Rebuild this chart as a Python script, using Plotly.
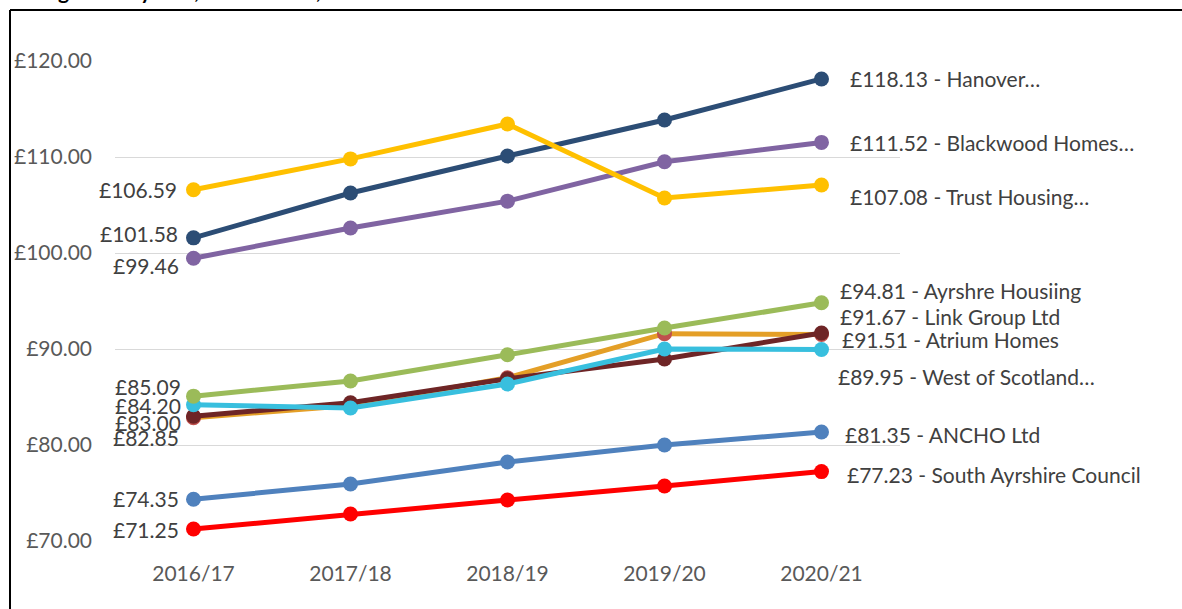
import plotly.graph_objects as go

years = ["2016/17", "2017/18", "2018/19", "2019/20", "2020/21"]

south_ayrshire = [71.25, 72.81, 74.27, 75.73, 77.23]
ancho = [74.35, 75.94, 78.23, 80.00, 81.35]
atrium = [82.85, 84.10, 87.00, 91.60, 91.51]
link_group = [83.00, 84.40, 86.90, 88.96, 91.67]
west_scotland = [84.20, 83.85, 86.35, 90.00, 89.95]
ayrshire_housing = [85.09, 86.67, 89.40, 92.19, 94.81]
blackwood = [99.46, 102.60, 105.40, 109.50, 111.52]
hanover = [101.58, 106.25, 110.10, 113.85, 118.13]
trust = [106.59, 109.80, 113.44, 105.73, 107.08]

names = ["South Ayrshire Council", "ANCHO Ltd", "Atrium Homes", "Link Group Ltd",
         "West of Scotland…", "Ayrshre Housiing", "Blackwood Homes…", "Hanover…",
         "Trust Housing…"]
series = [south_ayrshire, ancho, atrium, link_group, west_scotland,
          ayrshire_housing, blackwood, hanover, trust]

y_ticks = [70, 80, 90, 100, 110, 120]

# styles
line_colors = ["#FF0000", "#4F81BD", "#E49F27", "#6E2526", "#38BFDE",
               "#9BBB59", "#8064A2", "#2C4D75", "#FFC000"]
marker_colors = ["#FF0000", "#4F81BD", "#C0504D", "#6E2526", "#38BFDE",
                 "#9BBB59", "#8064A2", "#2C4D75", "#FFC000"]
# label offsets in pixels (xshift, yshift) for left (first) and right (last) labels
left_shift = [(-13, 0), (-13, 1), (-13, -20), (-11, -6), (-11, -1),
              (-11, 10), (-13, -7), (-14, 4), (-15, 0)]
right_shift = [(23, -3), (21, -2), (18, -5), (16, 16), (14, -27),
               (16, 12), (26, 0), (26, 0), (26, -11)]

FONT = "Lato"
fig = go.Figure()
for vals, name, lc, mc in zip(series, names, line_colors, marker_colors):
    fig.add_trace(go.Scatter(
        x=years, y=vals, mode="lines+markers", name=name,
        line=dict(color=lc, width=5),
        marker=dict(color=mc, size=15),
        showlegend=False, hoverinfo="skip"))

for vals, name, ls, rs in zip(series, names, left_shift, right_shift):
    fig.add_annotation(x=years[0], y=vals[0], text=f"£{vals[0]:.2f}",
                       xanchor="right", yanchor="middle", showarrow=False,
                       xshift=ls[0], yshift=ls[1],
                       font=dict(family=FONT, size=21, color="#404040"))
    fig.add_annotation(x=years[-1], y=vals[-1], text=f"£{vals[-1]:.2f} - {name}",
                       xanchor="left", yanchor="middle", showarrow=False,
                       xshift=rs[0], yshift=rs[1],
                       font=dict(family=FONT, size=21, color="#404040"))

# partially visible title cut off at the top
fig.add_annotation(x=-0.145, y=1.0, xref="paper", yref="paper",
                   yshift=56, text="<b>Average weekly rent, all landlords, 2016/17 - 2020/21</b>",
                   xanchor="left", yanchor="bottom", showarrow=False,
                   font=dict(family=FONT, size=21, color="#000000"))

# chart frame (left and top edges visible)
x0 = (10 - 115) / 785
ytop = (541 - 10) / 480
fig.add_shape(type="line", xref="paper", yref="paper", x0=x0, x1=2, y0=ytop, y1=ytop,
              line=dict(color="black", width=2))
fig.add_shape(type="line", xref="paper", yref="paper", x0=x0, x1=x0, y0=ytop, y1=-1,
              line=dict(color="black", width=2))

fig.update_layout(
    width=1182, height=609,
    margin=dict(l=115, r=282, t=61, b=68),
    paper_bgcolor="white", plot_bgcolor="white",
    xaxis=dict(type="category", range=[-0.5, 4.5], showgrid=False, showline=False,
               zeroline=False, ticks="", ticklabelstandoff=18,
               tickfont=dict(family=FONT, size=21, color="#595959")),
    yaxis=dict(range=[70, 120], tickvals=y_ticks,
               ticktext=[f"£{v:.2f}" for v in y_ticks],
               showgrid=True, gridcolor="#D9D9D9", gridwidth=1, zeroline=False,
               showline=False, ticks="", ticklabelstandoff=22,
               tickfont=dict(family=FONT, size=21, color="#595959")),
)

fig.write_html("out.html", config={"displayModeBar": False},
               post_script="document.body.style.margin='0';document.body.style.overflow='hidden';")
